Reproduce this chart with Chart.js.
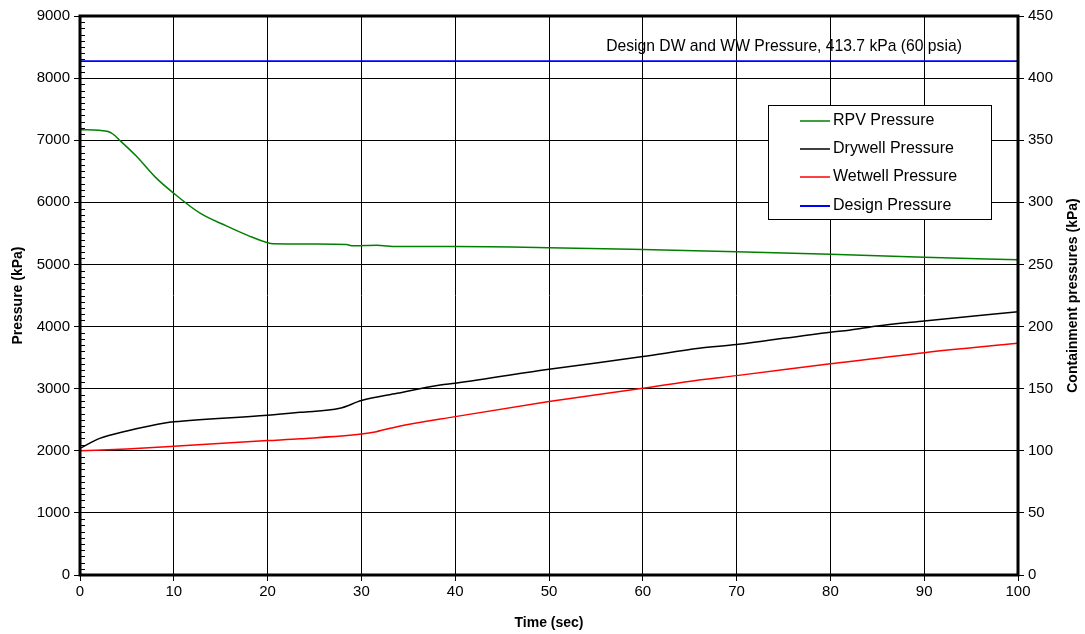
<!DOCTYPE html>
<html>
<head>
<meta charset="utf-8">
<script src="https://cdn.jsdelivr.net/npm/chart.js@4/dist/chart.umd.min.js"></script>
<style>
  html, body { margin: 0; padding: 0; background: #fff; }
  #wrap { width: 1085px; height: 634px; }
</style>
</head>
<body>
<div id="wrap"><canvas id="chart" width="1085" height="634"></canvas></div>
<script>
// RPV pressure (left axis, kPa)
const rpvTime = [0, 2, 3, 3.5, 4.3, 6, 8, 10, 12.8, 15.6, 18, 20, 20.6, 25, 28.4, 29.1, 31.6, 33.8, 40, 50, 60, 70, 80, 90, 100];
const rpvPressure = [7170, 7160, 7140, 7100, 6990, 6745, 6410, 6145, 5825, 5620, 5460, 5350, 5335, 5330, 5320, 5300, 5310, 5287, 5287, 5270, 5240, 5205, 5165, 5115, 5075];

// containment pressures (right axis, kPa)
const dwTime = [0, 2.1, 5, 9.2, 10, 20, 23.5, 27.7, 30, 33.8, 38.4, 40, 50, 60, 66, 70, 80, 82, 85, 90, 100];
const dwPressure = [102, 110, 116, 122.6, 123.3, 128.6, 131, 134.2, 140.4, 146.3, 153, 154.4, 165.6, 175.8, 182.5, 185.5, 195.5, 197, 200.5, 204.5, 212];

const wwTime = [0, 5, 10, 20, 23.5, 30, 31.6, 33.8, 40, 50, 60, 66, 70, 80, 90, 100];
const wwPressure = [100, 101.5, 103.6, 108.2, 109.7, 113.5, 115.4, 119.4, 127.5, 139.6, 150.3, 157, 160.5, 170, 179, 186.5];

const designTime = [0, 100];
const designPressure = [413.7, 413.7];

const seriesNames = ['RPV Pressure', 'Drywell Pressure', 'Wetwell Pressure', 'Design Pressure'];
const seriesColors = ['#008000', '#000000', '#ff0000', '#0000ff'];
const designLabel = 'Design DW and WW Pressure, 413.7 kPa (60 psia)';

const FONT = '"Liberation Sans", Arial, sans-serif';

function pts(xs, ys) {
    return xs.map((x, i) => ({ x: x, y: ys[i] }));
}

// extra drawing: frame, minor ticks, titles, annotation, legend
const decor = {
    id: 'decor',
    afterDatasetsDraw(chart) {
        const ctx = chart.ctx;
        const a = chart.chartArea;
        const y = chart.scales.y;
        ctx.save();

        // minor ticks on the left axis
        ctx.strokeStyle = '#000';
        ctx.lineWidth = 1;
        for (let v = 100; v < 9000; v += 100) {
            if (v % 1000 === 0) continue;
            const py = Math.round(y.getPixelForValue(v)) + 0.5;
            ctx.beginPath();
            ctx.moveTo(a.left, py);
            ctx.lineTo(a.left + 5, py);
            ctx.stroke();
        }

        // frame
        ctx.lineWidth = 3;
        ctx.strokeRect(a.left, a.top, a.right - a.left, a.bottom - a.top);

        // annotation
        ctx.fillStyle = '#000';
        ctx.font = '15.7px ' + FONT;
        ctx.textAlign = 'center';
        ctx.textBaseline = 'middle';
        ctx.fillText(designLabel, 784, 47);

        // axis titles
        ctx.font = 'bold 14px ' + FONT;
        const midY = (a.top + a.bottom) / 2;
        ctx.save();
        ctx.translate(18, midY);
        ctx.rotate(-Math.PI / 2);
        ctx.fillText('Pressure (kPa)', 0, 0);
        ctx.restore();
        ctx.save();
        ctx.translate(1073, midY);
        ctx.rotate(-Math.PI / 2);
        ctx.fillText('Containment pressures (kPa)', 0, 0);
        ctx.restore();
        ctx.fillText('Time (sec)', (a.left + a.right) / 2, 623);

        // legend box
        const lx = 768, ly = 105, lw = 223, lh = 114;
        ctx.fillStyle = '#fff';
        ctx.fillRect(lx, ly, lw, lh);
        ctx.lineWidth = 1;
        ctx.strokeStyle = '#000';
        ctx.strokeRect(lx + 0.5, ly + 0.5, lw, lh);
        ctx.font = '16px ' + FONT;
        ctx.textAlign = 'left';
        const rows = [121, 149, 177, 206];
        seriesNames.forEach((name, i) => {
            ctx.strokeStyle = seriesColors[i];
            ctx.lineWidth = i === 3 ? 2 : 1.5;
            ctx.beginPath();
            ctx.moveTo(800, rows[i]);
            ctx.lineTo(830, rows[i]);
            ctx.stroke();
            ctx.fillStyle = '#000';
            ctx.fillText(name, 833, rows[i]);
        });
        ctx.restore();
    }
};

const tickFont = { family: FONT, size: 15 };
const plainTick = v => String(v);

new Chart(document.getElementById('chart'), {
    type: 'line',
    data: {
        datasets: [
            { label: seriesNames[0], data: pts(rpvTime, rpvPressure), borderColor: seriesColors[0], yAxisID: 'y' },
            { label: seriesNames[1], data: pts(dwTime, dwPressure), borderColor: seriesColors[1], yAxisID: 'y1' },
            { label: seriesNames[2], data: pts(wwTime, wwPressure), borderColor: seriesColors[2], yAxisID: 'y1' },
            { label: seriesNames[3], data: pts(designTime, designPressure), borderColor: seriesColors[3], yAxisID: 'y1', borderWidth: 1.8 }
        ]
    },
    options: {
        responsive: false,
        animation: false,
        layout: { padding: { top: 16, left: 0, right: 0, bottom: 0 } },
        elements: {
            point: { radius: 0 },
            line: { borderWidth: 1.5, tension: 0.3, cubicInterpolationMode: 'monotone' }
        },
        plugins: {
            legend: { display: false },
            tooltip: { enabled: false }
        },
        scales: {
            x: {
                type: 'linear',
                min: 0,
                max: 100,
                ticks: { stepSize: 10, color: '#000', font: tickFont, padding: 2, maxRotation: 0, callback: plainTick },
                grid: { color: '#000', lineWidth: 1, tickLength: 6 },
                border: { display: false },
                afterFit(s) { s.height = 59; }
            },
            y: {
                position: 'left',
                min: 0,
                max: 9000,
                ticks: { stepSize: 1000, color: '#000', font: tickFont, padding: 4, callback: plainTick },
                grid: { color: '#000', lineWidth: 1, tickLength: 6 },
                border: { display: false },
                afterFit(s) { s.width = 80; }
            },
            y1: {
                position: 'right',
                min: 0,
                max: 450,
                ticks: { stepSize: 50, color: '#000', font: tickFont, padding: 4, callback: plainTick },
                grid: { drawOnChartArea: false, color: '#000', tickLength: 6 },
                border: { display: false },
                afterFit(s) { s.width = 67; }
            }
        }
    },
    plugins: [decor]
});
</script>
</body>
</html>
